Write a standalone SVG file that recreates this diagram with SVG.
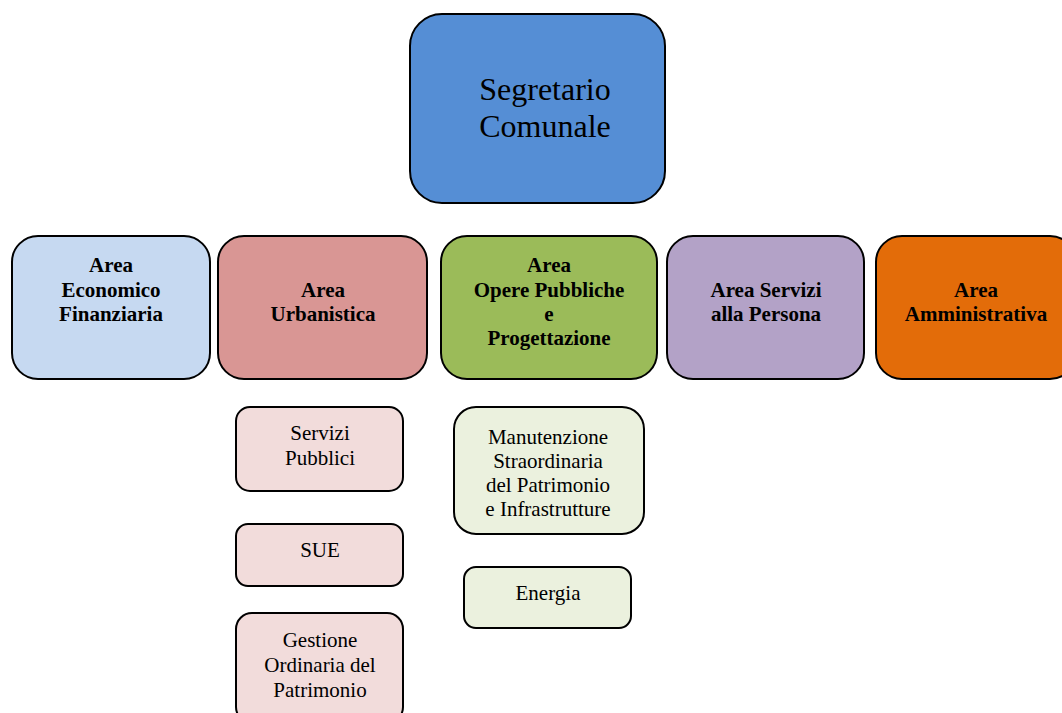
<svg xmlns="http://www.w3.org/2000/svg" width="1062" height="713" viewBox="0 0 1062 713">
<style>
.b{stroke:#000;stroke-width:2}
.t{font-family:"Liberation Serif","Times New Roman",serif;fill:#000;text-anchor:middle}
.h{font-size:21px;font-weight:bold}
.s{font-size:21px}
.top{font-size:32px}
</style>
<rect width="1062" height="713" fill="#fff"/>
<g id="connectors"></g>
<g id="segretario">
<rect class="b" x="410" y="14" width="255" height="189" rx="32" fill="#558ED5"/>
<text class="t top" x="545" y="100">Segretario</text>
<text class="t top" x="545" y="137">Comunale</text>
</g>
<g id="area-economico">
<rect class="b" x="12" y="236" width="198" height="143" rx="26" fill="#C6D9F1"/>
<text class="t h" x="111" y="272">Area</text>
<text class="t h" x="111" y="297">Economico</text>
<text class="t h" x="111" y="321">Finanziaria</text>
</g>
<g id="area-urbanistica">
<rect class="b" x="218" y="236" width="209" height="143" rx="26" fill="#D99694"/>
<text class="t h" x="323" y="297">Area</text>
<text class="t h" x="323" y="321">Urbanistica</text>
</g>
<g id="area-opere">
<rect class="b" x="441" y="236" width="216" height="143" rx="26" fill="#9BBB59"/>
<text class="t h" x="549" y="272">Area</text>
<text class="t h" x="549" y="297">Opere Pubbliche</text>
<text class="t h" x="549" y="321">e</text>
<text class="t h" x="549" y="345">Progettazione</text>
</g>
<g id="area-servizi">
<rect class="b" x="667" y="236" width="197" height="143" rx="26" fill="#B3A2C7"/>
<text class="t h" x="766" y="297">Area Servizi</text>
<text class="t h" x="766" y="321">alla Persona</text>
</g>
<g id="area-amministrativa">
<rect class="b" x="876" y="236" width="200" height="143" rx="26" fill="#E36C09"/>
<text class="t h" x="976" y="297">Area</text>
<text class="t h" x="976" y="321">Amministrativa</text>
</g>
<g id="servizi-pubblici">
<rect class="b" x="236" y="407" width="167" height="84" rx="14" fill="#F2DCDB"/>
<text class="t s" x="320" y="440">Servizi</text>
<text class="t s" x="320" y="465">Pubblici</text>
</g>
<g id="sue">
<rect class="b" x="236" y="524" width="167" height="62" rx="12" fill="#F2DCDB"/>
<text class="t s" x="320" y="557">SUE</text>
</g>
<g id="gestione">
<rect class="b" x="236" y="613" width="167" height="110" rx="16" fill="#F2DCDB"/>
<text class="t s" x="320" y="647">Gestione</text>
<text class="t s" x="320" y="672">Ordinaria del</text>
<text class="t s" x="320" y="697">Patrimonio</text>
</g>
<g id="manutenzione">
<rect class="b" x="454" y="407" width="190" height="127" rx="22" fill="#EBF1DE"/>
<text class="t s" x="548" y="444">Manutenzione</text>
<text class="t s" x="548" y="468">Straordinaria</text>
<text class="t s" x="548" y="492">del Patrimonio</text>
<text class="t s" x="548" y="516">e Infrastrutture</text>
</g>
<g id="energia">
<rect class="b" x="464" y="567" width="167" height="61" rx="12" fill="#EBF1DE"/>
<text class="t s" x="548" y="600">Energia</text>
</g>
</svg>
